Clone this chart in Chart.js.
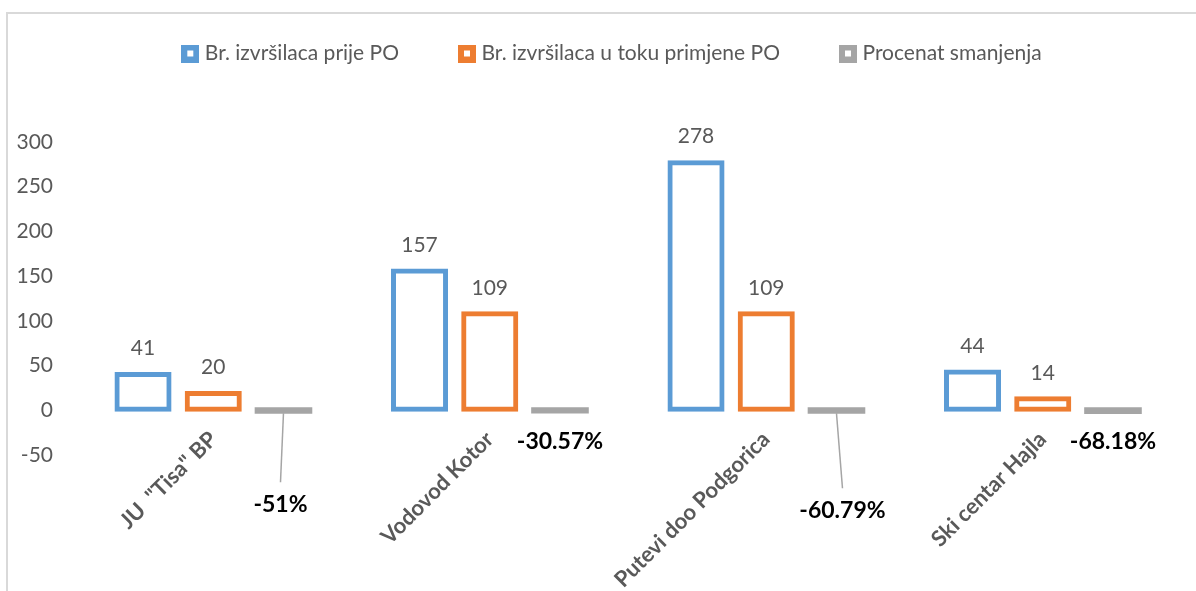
<!DOCTYPE html>
<html><head><meta charset="utf-8">
<script src="https://cdn.jsdelivr.net/npm/chart.js@4.4.0/dist/chart.umd.min.js"></script>
<style>
html,body{margin:0;padding:0;background:#fff;overflow:hidden;width:1196px;height:591px;}
#frame{position:absolute;left:6px;top:12px;width:1400px;height:800px;border-left:2px solid #d9d9d9;border-top:2px solid #d9d9d9;}
#wrap{position:absolute;left:0;top:0;width:1196px;height:591px;}
</style></head><body>
<div id="frame"></div>
<div id="wrap"><canvas id="c" width="1196" height="591"></canvas></div>
<script>
const categories = ['JU  "Tisa" BP', 'Vodovod Kotor', 'Putevi doo Podgorica', 'Ski centar Hajla'];
const seriesNames = ['Br. izvršilaca prije PO', 'Br. izvršilaca u toku primjene PO', 'Procenat smanjenja'];
const beforeValues = [41, 157, 278, 44];
const duringValues = [20, 109, 109, 14];
const reductionValues = [-0.51, -0.3057, -0.6079, -0.6818];
const yTicks = [-50, 0, 50, 100, 150, 200, 250, 300];
const seriesColors = ['#5B9BD5', '#ED7D31', '#A5A5A5'];

const FONT = 'Lato';
function pct(v){ let s = (v*100).toFixed(2); s = s.replace(/\.?0+$/, ''); return s + '%'; }

function legendMarker(color){
  const c = document.createElement('canvas');
  c.width = 18; c.height = 18;
  const g = c.getContext('2d');
  g.fillStyle = color; g.fillRect(0, 0, 18, 18);
  g.fillStyle = '#ffffff'; g.fillRect(6, 6, 6, 6);
  return c;
}
const markers = seriesColors.map(legendMarker);

const legendSpace = {
  id: 'legendSpace',
  beforeInit(chart){
    const lg = chart.legend;
    const orig = lg.fit;
    lg.fit = function(){ orig.call(this); this.height = 163; };
  },
  afterLayout(chart){
    const lg = chart.legend;
    lg.left = chart.chartArea.left - 28;
    lg.right = chart.chartArea.right;
  }
};

const labelPlugin = {
  id: 'valueLabels',
  afterDatasetsDraw(chart){
    const ctx = chart.ctx;
    ctx.save();
    ctx.textAlign = 'center'; ctx.textBaseline = 'middle';
    [0,1].forEach(di => {
      chart.getDatasetMeta(di).data.forEach((bar, i) => {
        ctx.font = '21px ' + FONT; ctx.fillStyle = '#595959';
        ctx.fillText(String(chart.data.datasets[di].data[i]), bar.x, bar.y - 25);
      });
    });
    const place = [{dx:-3,dy:94,leader:true},{dx:0,dy:31},{dx:6,dy:100,leader:true},{dx:0,dy:31}];
    chart.getDatasetMeta(2).data.forEach((bar, i) => {
      const p = place[i];
      const base = bar.base;
      const tx = bar.x + p.dx, ty = base + p.dy;
      if (p.leader) {
        ctx.strokeStyle = '#A5A5A5'; ctx.lineWidth = 1.5;
        ctx.beginPath(); ctx.moveTo(bar.x, base + 3); ctx.lineTo(tx, ty - 22); ctx.stroke();
      }
      ctx.font = 'bold 23px ' + FONT; ctx.fillStyle = '#000';
      ctx.fillText(pct(reductionValues[i]), tx, ty);
    });
    ctx.restore();
  }
};

const outlined = (i) => ({
  label: seriesNames[i],
  backgroundColor: 'rgba(0,0,0,0)',
  borderColor: seriesColors[i],
  borderWidth: 2,
  inflateAmount: 1.5,
  borderSkipped: false,
  barPercentage: 0.77,
  categoryPercentage: 0.762
});

new Chart(document.getElementById('c'), {
  type: 'bar',
  data: {
    labels: categories,
    datasets: [
      Object.assign(outlined(0), {data: beforeValues}),
      Object.assign(outlined(1), {data: duringValues}),
      {
        label: seriesNames[2],
        data: reductionValues,
        backgroundColor: seriesColors[2],
        borderWidth: 0,
        inflateAmount: 3,
        barPercentage: 0.735,
        categoryPercentage: 0.762
      }
    ]
  },
  options: {
    responsive: false,
    animation: false,
    devicePixelRatio: 1,
    layout: { padding: { top: -21, left: 0, right: 15, bottom: 136 } },
    plugins: {
      tooltip: { enabled: false },
      legend: {
        position: 'top',
        labels: {
          font: { family: FONT, size: 21 },
          color: '#595959',
          usePointStyle: true,
          boxWidth: 8,
          boxHeight: 18,
          padding: 64,
          generateLabels(chart){
            return chart.data.datasets.map((ds, i) => ({
              text: ds.label, fillStyle: seriesColors[i], strokeStyle: seriesColors[i],
              lineWidth: 0, pointStyle: markers[i], hidden: false, datasetIndex: i, fontColor: '#595959'
            }));
          }
        }
      }
    },
    scales: {
      x: {
        position: { y: 0 },
        grid: { display: false },
        border: { display: false },
        ticks: {
          minRotation: 45, maxRotation: 45,
          color: '#595959',
          font: { family: FONT, size: 22, weight: 'bold' },
          padding: 8
        }
      },
      y: {
        min: -50, max: 300,
        grid: { display: false, drawTicks: false },
        border: { display: false },
        afterBuildTicks(scale){ scale.ticks = yTicks.map(v => ({value: v})); },
        afterFit(scale){ scale.width = 75; },
        ticks: {
          color: '#595959',
          font: { family: FONT, size: 21 },
          padding: 22
        }
      }
    }
  },
  plugins: [legendSpace, labelPlugin]
});
</script>
</body></html>
